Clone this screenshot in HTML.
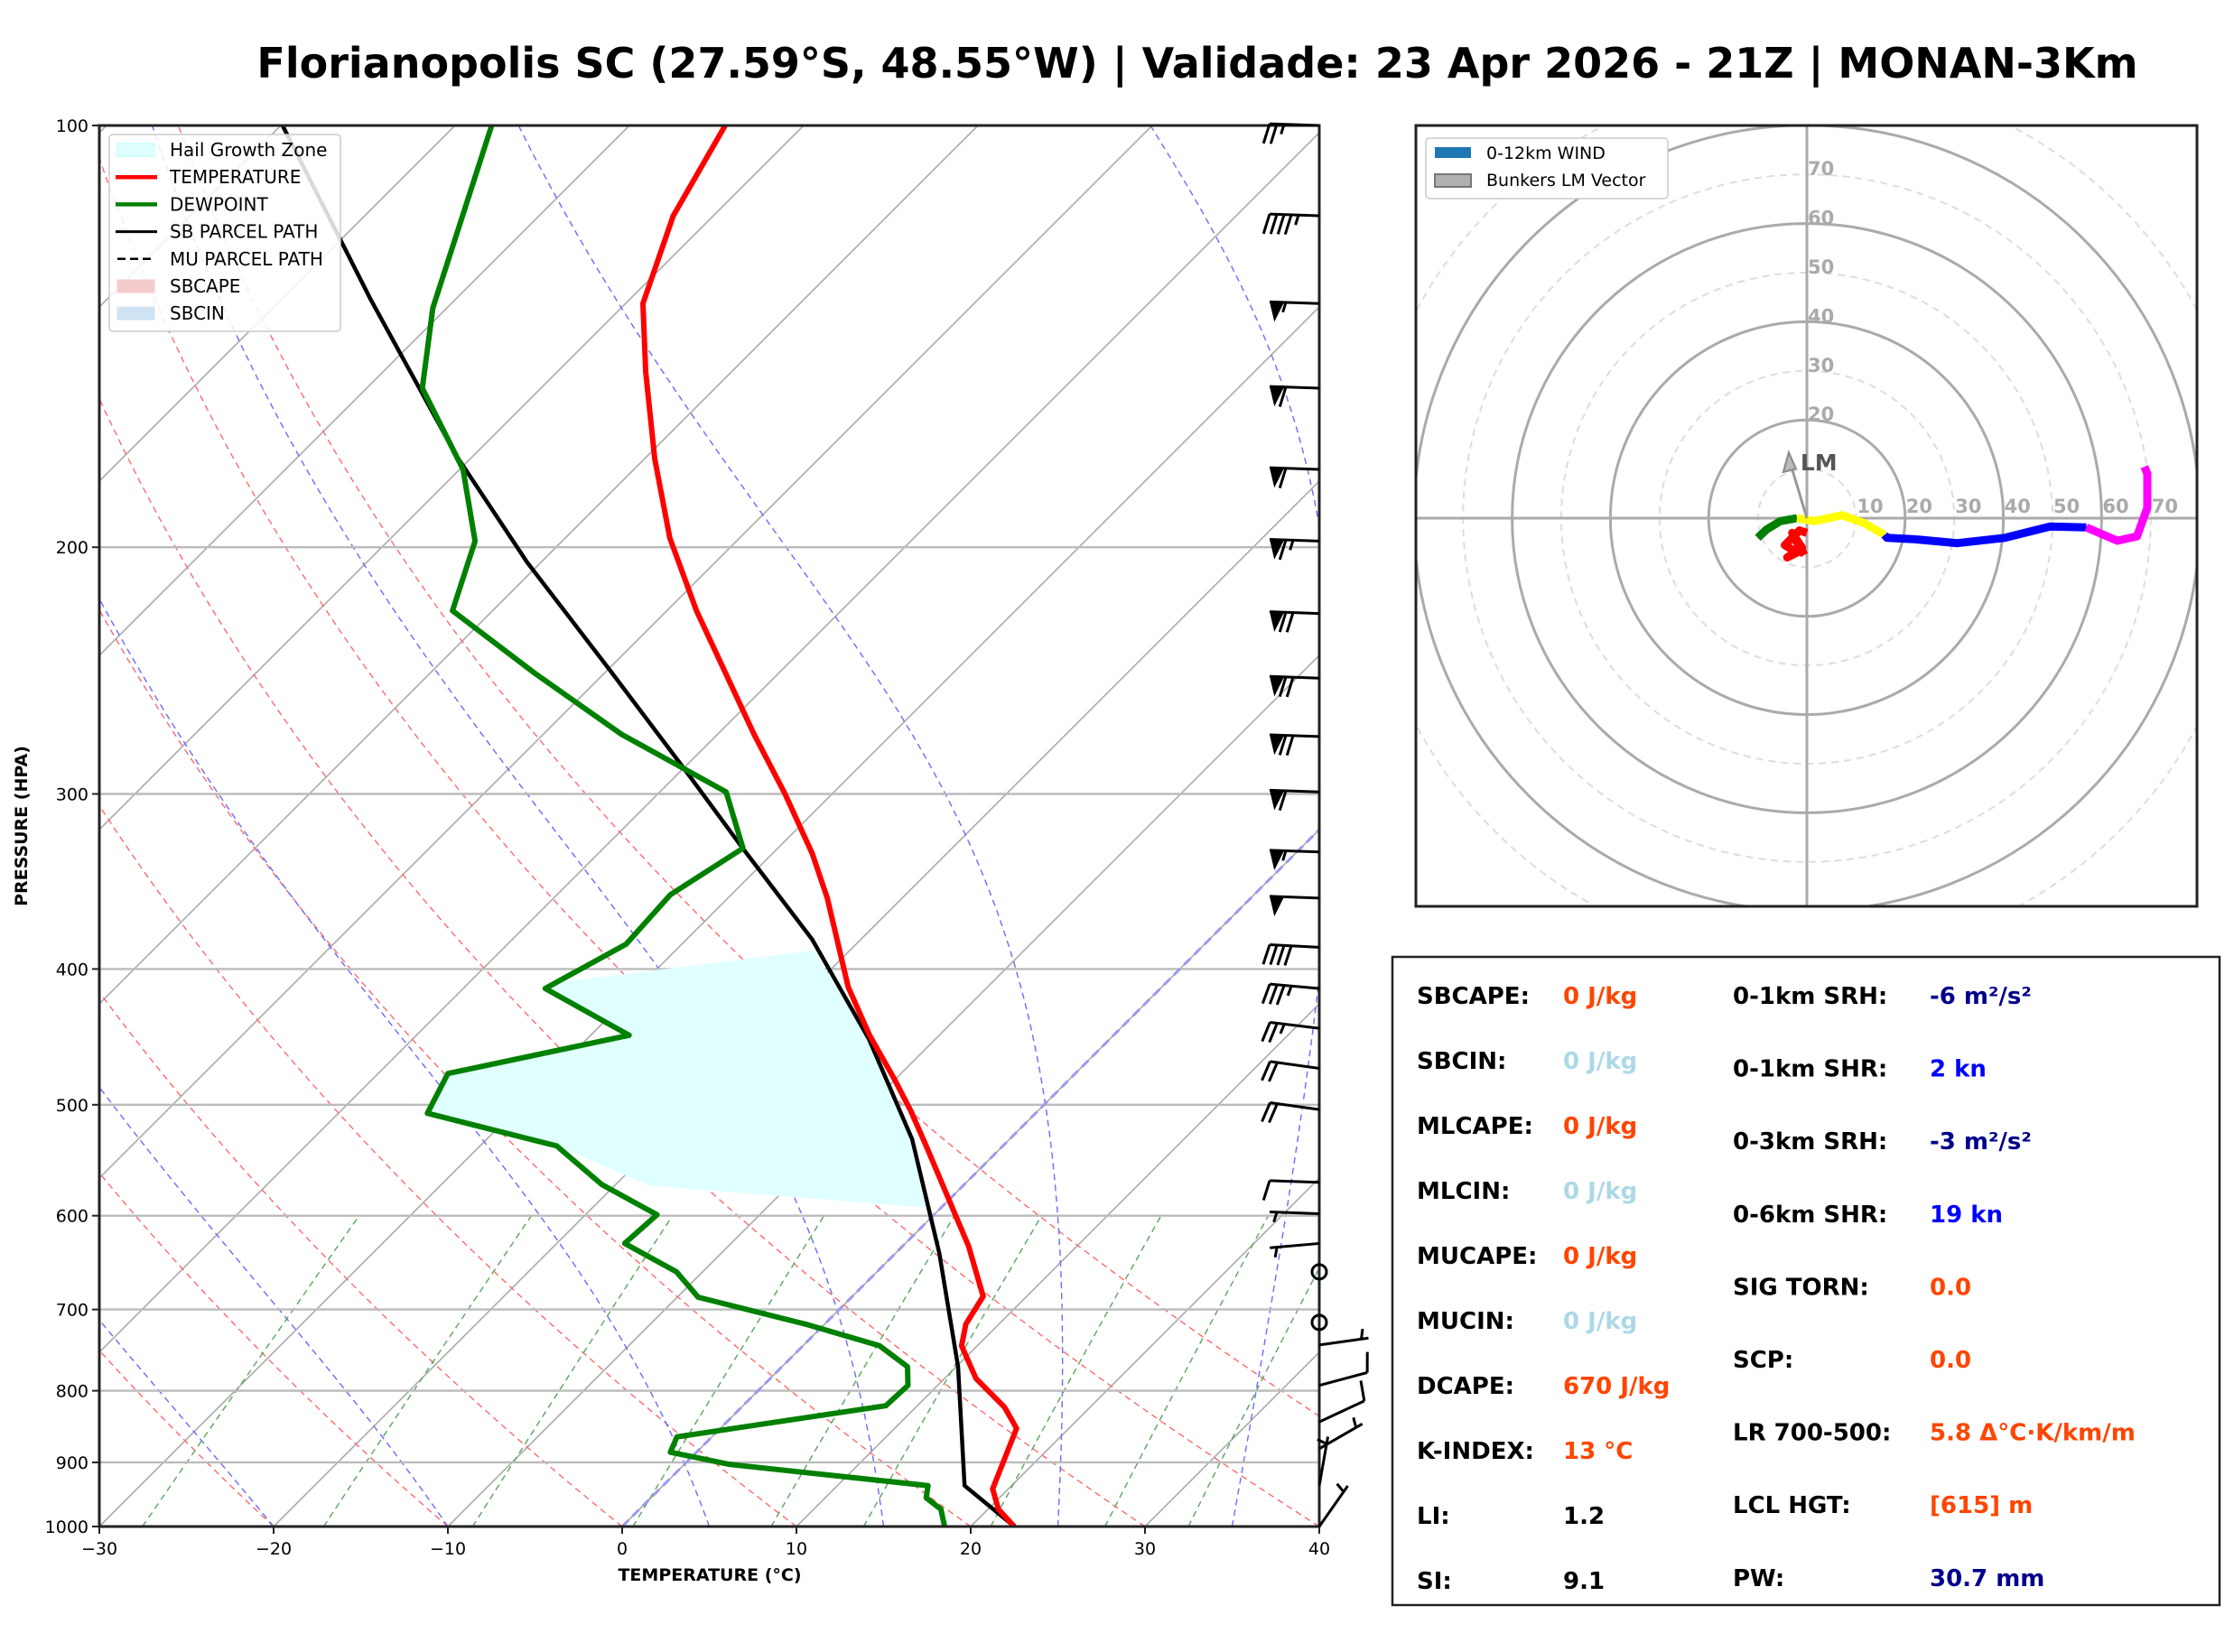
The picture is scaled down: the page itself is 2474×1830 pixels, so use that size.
<!DOCTYPE html>
<html><head><meta charset="utf-8"><style>
html,body{margin:0;padding:0;background:#fff;}
svg{display:block;font-family:"DejaVu Sans","Liberation Sans",sans-serif;}
</style></head><body>
<svg id="svg" width="2474" height="1830" viewBox="0 0 2474 1830" xmlns="http://www.w3.org/2000/svg">
<defs><clipPath id="skclip"><rect x="110" y="139" width="1351" height="1552"/></clipPath>
<clipPath id="hclip"><rect x="1568" y="139" width="865" height="865"/></clipPath></defs>
<text x="1326" y="86" text-anchor="middle" font-size="46" font-weight="bold">Florianopolis SC (27.59°S, 48.55°W) | Validade: 23 Apr 2026 - 21Z | MONAN-3Km</text>
<g id="skew"></g>
<g id="hodo"></g>
<g id="table"></g>
</svg>
<script>
// ---------- data ----------
const tempP = [1000,972,940,851,822,784,743,717,685,631,581,535,505,479,446,412,356,331,300,272,222,197,173,150,134,116,100];
const tempT = [22.5,20.6,19.1,17.0,15.1,11.8,9.1,8.1,7.5,3.8,-0.3,-4.4,-7.3,-10.1,-14.0,-18.0,-24.3,-27.7,-32.7,-37.9,-48.3,-54.0,-59.4,-64.9,-69.0,-72.3,-74.5];
const dewP = [1000,972,954,935,903,885,863,839,820,793,769,743,717,686,658,628,599,570,535,507,475,446,413,384,354,328,299,272,246,222,198,176,154,135,100];
const dewT = [18.5,17.3,15.8,15.2,2.6,-1.5,-2.0,3.6,8.2,8.3,7.2,4.4,-1.1,-8.8,-11.5,-16.1,-15.9,-20.8,-25.6,-34.9,-36.0,-27.8,-35.3,-33.2,-33.5,-32.0,-36.2,-45.5,-54.0,-62.3,-65.0,-69.8,-76.8,-80.8,-87.9];
const parcelP = [1000,935,769,638,529,449,381,327,288,245,205,172,133,100];
const parcelT = [22.5,17.3,10.1,2.5,-5.6,-13.8,-22.8,-32.2,-39.9,-49.8,-60.8,-71.0,-84.9,-99.9];
const hgzP = [409,388,449,529,592,571,535,507,475,446,413];
const hgzT = [-35,-22.1,-13.8,-5.6,-0.9,-18,-25.6,-34.9,-36,-27.8,-35.3];
const barbP = [100,116,134,154,176,198,223,248,273,299,330,356,386,413,441,471,504,568,598,628,658,715,742,793,842,880,935,1000];
const barbDir = [272,272,272,272,272,272,272,272,272,272,272,272,273,275,277,278,278,272,272,265,0,0,82,75,65,60,10,35];
const barbSpd = [25,45,55,60,60,65,70,70,70,60,55,50,40,35,25,20,20,10,5,5,0,0,5,10,10,5,5,5];
const pTicks = [100,200,300,400,500,600,700,800,900,1000];
const tTicks = [-30,-20,-10,0,10,20,30,40];
const dryTheta = [-30,-20,-10,0,10,20,30,40,50];
const moistT0 = [-20,-10,5,15,25,35];
const mixRatios = [0.0004,0.001,0.002,0.004,0.007,0.01,0.016,0.024,0.032];
// hodograph segments (u,v in kt)
const hodoRedU = [0,-1.5,-3,-4.5,-2,-4,-1,-3,-2,-0.5];
const hodoRedV = [-3,-2.5,-4,-5.5,-7,-8,-6,-3,-5,-7.5];
const hodoGreenU = [-10,-8.2,-5.4,-2];
const hodoGreenV = [-4,-2.3,-0.6,0];
const hodoYellowU = [-2,1.5,7.2,11.8,15.8];
const hodoYellowV = [0,-0.6,0.6,-1.1,-3.4];
const hodoBlueU = [15.8,16.3,22,30.6,40.3,49.5,56.9];
const hodoBlueV = [-3.4,-4,-4.3,-5.1,-4,-1.7,-1.9];
const hodoMagU = [56.9,63.2,67.2,69.3,69.3,68.7];
const hodoMagV = [-1.9,-4.6,-3.7,2.1,9.1,10.5];
const lmU = -3.7, lmV = 12.3;
const ringKt = [10,20,30,40,50,60,70,80,90];

// ---------- helpers ----------
const NS="http://www.w3.org/2000/svg";
function mk(tag,attrs,parent){const e=document.createElementNS(NS,tag);for(const k in attrs)e.setAttribute(k,attrs[k]);parent.appendChild(e);return e;}
const Y = p => 1691 - Math.log10(1000/p)*1552;
const X = (T,p) => 110 + (T+30)*19.3 + (1691 - Y(p));
function pathPT(P,T){return P.map((p,i)=>(i?'L':'M')+X(T[i],p).toFixed(1)+' '+Y(p).toFixed(1)).join(' ');}

const sk=document.getElementById('skew');
const cg=mk('g',{'clip-path':'url(#skclip)'},sk);



for(let t=-130;t<=40;t+=10){
  const l=mk('line',{x1:X(t,1000),y1:Y(1000),x2:X(t,100),y2:Y(100),stroke:'#aaa','stroke-width':1.6},cg);
  
  
}
dryTheta.forEach(th=>{
  const P=[],T=[];for(let p=1000;p>=100;p-=10){P.push(p);T.push((th+273.15)*Math.pow(p/1000,0.286)-273.15);}
  const e=mk('path',{d:pathPT(P,T),fill:'none',stroke:'#ff6b6b','stroke-width':1.4,'stroke-dasharray':'7 5'},cg);
  
  
});
moistT0.forEach(t0=>{
  let T=t0+273.15;const P=[],TT=[];
  for(let p=1000;p>=100;p-=5){P.push(p);TT.push(T-273.15);
    const es=6.112*Math.exp(17.67*(T-273.15)/(T-29.65));const rs=0.622*es/(p-es);
    const d=(287*T+2.5e6*rs)/(1005+2.5e6*2.5e6*rs*0.622/(287*T*T))/p;T-=d*5;}
  const e=mk('path',{d:pathPT(P,TT),fill:'none',stroke:'#6b6bff','stroke-width':1.4,'stroke-dasharray':'7 5'},cg);
  
  
});
mixRatios.forEach(w=>{
  const P=[],T=[];for(let p=1000;p>=600;p-=20){const e=p*w/(0.622+w);const L=Math.log(e/6.112);P.push(p);T.push(243.5*L/(17.67-L));}
  const e=mk('path',{d:pathPT(P,T),fill:'none',stroke:'#5aa55a','stroke-width':1.4,'stroke-dasharray':'7 5'},cg);
  
  
});
pTicks.forEach(p=>{
  const l=mk('line',{x1:110,x2:1461,y1:Y(p),y2:Y(p),stroke:'#bbb','stroke-width':2.4},cg);
  
  
});
const zi=mk('line',{x1:X(0,1000),y1:Y(1000),x2:X(0,100),y2:Y(100),stroke:'#9a9aee','stroke-width':3,'stroke-dasharray':'10 6'},cg);


const hg=mk('path',{d:pathPT(hgzP,hgzT)+'Z',fill:'#e0ffff',stroke:'none'},cg);


const pp=mk('path',{d:pathPT(parcelP,parcelT),fill:'none',stroke:'#000','stroke-width':4.5},cg);


const dp=mk('path',{d:pathPT(dewP,dewT),fill:'none',stroke:'#008000','stroke-width':6,'stroke-linejoin':'round'},cg);


const tp=mk('path',{d:pathPT(tempP,tempT),fill:'none',stroke:'#ff0000','stroke-width':6,'stroke-linejoin':'round'},cg);



const fr=mk('rect',{x:110,y:139,width:1351,height:1552,fill:'none',stroke:'#222','stroke-width':3},sk);


pTicks.forEach(p=>{
  const t=mk('line',{x1:102,x2:110,y1:Y(p),y2:Y(p),stroke:'#222','stroke-width':2},sk);
  
  
  const tx=mk('text',{x:98,y:Y(p)+7,'text-anchor':'end','font-size':19},sk);tx.textContent=p;
  
  
});
tTicks.forEach(t=>{
  const x=110+(t+30)*19.3;
  const l=mk('line',{x1:x,x2:x,y1:1691,y2:1699,stroke:'#222','stroke-width':2},sk);
  
  
  const tx=mk('text',{x:x,y:1722,'text-anchor':'middle','font-size':19},sk);tx.textContent=(t<0?'\u2212'+(-t):t);
  
  
});
const xl=mk('text',{x:786,y:1751,'text-anchor':'middle','font-size':19,'font-weight':'bold'},sk);xl.textContent='TEMPERATURE (°C)';


const yl=mk('text',{x:0,y:0,'text-anchor':'middle','font-size':19,'font-weight':'bold',transform:'translate(30,915) rotate(-90)'},sk);yl.textContent='PRESSURE (HPA)';



barbP.forEach((p,i)=>{
  const ax=1461, ay=Y(p), s=barbSpd[i], d=barbDir[i]*Math.PI/180;
  const g=mk('g',{},sk);
  
  
  if(s<2.5){mk('circle',{cx:ax,cy:ay,r:8,fill:'none',stroke:'#000','stroke-width':3},g);return;}
  const ux=Math.sin(d), uy=-Math.cos(d), px=uy, py=-ux, L=55;
  const ex=ax+ux*L, ey=ay+uy*L;
  mk('line',{x1:ax,y1:ay,x2:ex,y2:ey,stroke:'#000','stroke-width':3},g);
  let rem=Math.round(s/5)*5, pos=0;
  while(rem>=50){const bx=ex-ux*pos,by=ey-uy*pos;
    mk('polygon',{points:`${bx},${by} ${bx-ux*16},${by-uy*16} ${bx-ux*6+px*22},${by-uy*6+py*22}`,fill:'#000'},g);pos+=18;rem-=50;}
  while(rem>=10){const bx=ex-ux*pos,by=ey-uy*pos;
    mk('line',{x1:bx,y1:by,x2:bx+px*22+ux*6,y2:by+py*22+uy*6,stroke:'#000','stroke-width':3},g);pos+=8;rem-=10;}
  if(rem>=5){if(pos===0)pos=8;const bx=ex-ux*pos,by=ey-uy*pos;
    mk('line',{x1:bx,y1:by,x2:bx+px*11+ux*3,y2:by+py*11+uy*3,stroke:'#000','stroke-width':3},g);}
});

const lg=mk('g',{},sk);


mk('rect',{x:121,y:149,width:256,height:218,rx:4,fill:'#fff','fill-opacity':0.85,stroke:'#ccc','stroke-width':1.5},lg);
const legItems=[['Hail Growth Zone','patch','#e0ffff','#b0ffff'],['TEMPERATURE','line','#ff0000'],['DEWPOINT','line','#008000'],['SB PARCEL PATH','line','#000'],['MU PARCEL PATH','dash','#000'],['SBCAPE','patch','#f4cccc','#f4cccc'],['SBCIN','patch','#cfe2f3','#cfe2f3']];
legItems.forEach((it,i)=>{
  const y=166+i*30.2;
  const e=mk('g',{},lg);
  
  
  if(it[1]==='patch')mk('rect',{x:130,y:y-7,width:41,height:14,fill:it[2],stroke:it[3]},e);
  else if(it[1]==='line')mk('line',{x1:128,x2:174,y1:y,y2:y,stroke:it[2],'stroke-width':it[2]==='#000'?3:4.5},e);
  else mk('line',{x1:130,x2:172,y1:y,y2:y,stroke:'#000','stroke-width':2.5,'stroke-dasharray':'9 5'},e);
  const t=mk('text',{x:188,y:y+7,'font-size':20},e);t.textContent=it[0];
});

// ---------- hodograph ----------
const hd=document.getElementById('hodo');
const HX=u=>2001+u*5.44, HY=v=>574-v*5.44;
const hc=mk('g',{'clip-path':'url(#hclip)'},hd);


ringKt.forEach(r=>{
  const c=mk('circle',{cx:HX(0),cy:HY(0),r:r*5.44,fill:'none',stroke:r%20===0?'#aaa':'#ddd','stroke-width':r%20===0?3:2,'stroke-dasharray':r%20===0?'none':'8 6'},hc);
  
  
});
mk('line',{x1:1568,x2:2433,y1:HY(0),y2:HY(0),stroke:'#aaa','stroke-width':3},hc);
mk('line',{x1:HX(0),x2:HX(0),y1:139,y2:1004,stroke:'#aaa','stroke-width':3},hc);
ringKt.filter(r=>r<=70).forEach(r=>{
  const a=mk('text',{x:HX(r)+1,y:HY(0)-6,'font-size':21,'font-weight':'bold',fill:'#aaa'},hc);a.textContent=r;
  
  
  if(r>=20){const b=mk('text',{x:HX(0)+1,y:HY(r)+1,'font-size':21,'font-weight':'bold',fill:'#aaa'},hc);b.textContent=r;
  
  }
});
function seg(U,V,col,name){const d=U.map((u,i)=>(i?'L':'M')+HX(u).toFixed(1)+' '+HY(V[i]).toFixed(1)).join(' ');
  const e=mk('path',{d:d,fill:'none',stroke:col,'stroke-width':9,'stroke-linejoin':'round'},hc);
  
  }
seg(hodoRedU,hodoRedV,'#ff0000','hodo-segment-0-1km');
seg(hodoGreenU,hodoGreenV,'#008000','hodo-segment-1-3km');
seg(hodoYellowU,hodoYellowV,'#ffff00','hodo-segment-3-6km');
seg(hodoBlueU,hodoBlueV,'#0000ff','hodo-segment-6-9km');
seg(hodoMagU,hodoMagV,'#ff00ff','hodo-segment-9-12km');
const lm=mk('g',{},hc);


mk('line',{x1:HX(0),y1:HY(0),x2:HX(lmU),y2:HY(lmV),stroke:'#999','stroke-width':3},lm);
mk('polygon',{points:`${HX(lmU)},${HY(lmV)-6} ${HX(lmU)-6},${HY(lmV)+16} ${HX(lmU)+8},${HY(lmV)+12}`,fill:'#bbb',stroke:'#888','stroke-width':2},lm);
const lmt=mk('text',{x:HX(lmU)+13,y:HY(lmV)+14,'font-size':25,'font-weight':'bold',fill:'#555'},lm);lmt.textContent='LM';
const hf=mk('rect',{x:1568,y:139,width:865,height:865,fill:'none',stroke:'#222','stroke-width':3},hd);


const hl=mk('g',{},hd);


mk('rect',{x:1579,y:153,width:268,height:67,rx:4,fill:'#fff',stroke:'#ccc','stroke-width':1.5},hl);
mk('rect',{x:1589,y:163,width:40,height:12,fill:'#1f77b4'},hl);
mk('rect',{x:1589,y:193,width:40,height:14,fill:'#b0b0b0',stroke:'#777','stroke-width':2},hl);
const h1=mk('text',{x:1646,y:176,'font-size':19},hl);h1.textContent='0-12km WIND';
const h2=mk('text',{x:1646,y:206,'font-size':19},hl);h2.textContent='Bunkers LM Vector';

// ---------- table ----------
const tb=document.getElementById('table');
const box=mk('rect',{x:1542,y:1060,width:916,height:718,fill:'#fff',stroke:'#222','stroke-width':2.5},tb);


const OR='#ff4500',LB='#add8e6',NV='#00008b',BL='#0000ff',BK='#000';
const leftRows=[['SBCAPE:','0 J/kg',OR],['SBCIN:','0 J/kg',LB],['MLCAPE:','0 J/kg',OR],['MLCIN:','0 J/kg',LB],['MUCAPE:','0 J/kg',OR],['MUCIN:','0 J/kg',LB],['DCAPE:','670 J/kg',OR],['K-INDEX:','13 °C',OR],['LI:','1.2',BK],['SI:','9.1',BK]];
const rightRows=[['0-1km SRH:','-6 m²/s²',NV],['0-1km SHR:','2 kn',BL],['0-3km SRH:','-3 m²/s²',NV],['0-6km SHR:','19 kn',BL],['SIG TORN:','0.0',OR],['SCP:','0.0',OR],['LR 700-500:','5.8 Δ°C·K/km/m',OR],['LCL HGT:','[615] m',OR],['PW:','30.7 mm',NV]];
leftRows.forEach((r,i)=>{const y=1112+i*72;
  const a=mk('text',{x:1569,y:y,'font-size':26,'font-weight':'bold'},tb);a.textContent=r[0];
  
  
  const b=mk('text',{x:1731,y:y,'font-size':26,'font-weight':'bold',fill:r[2]},tb);b.textContent=r[1];
  
  });
rightRows.forEach((r,i)=>{const y=1112+i*80.6;
  const a=mk('text',{x:1919,y:y,'font-size':26,'font-weight':'bold'},tb);a.textContent=r[0];
  
  
  const b=mk('text',{x:2137,y:y,'font-size':26,'font-weight':'bold',fill:r[2]},tb);b.textContent=r[1];
  
  });
</script>
</body></html>
